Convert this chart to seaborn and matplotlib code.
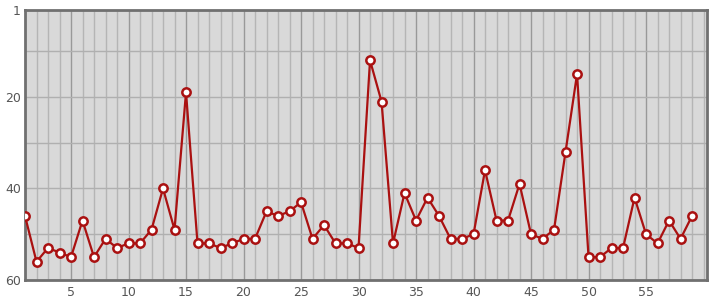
import matplotlib
matplotlib.use("Agg")
import matplotlib.pyplot as plt
import seaborn as sns
import pandas as pd
import numpy as np
from matplotlib.ticker import MultipleLocator, FixedLocator

x_vals = list(range(1, 60))
ranks = [46, 56, 53, 54, 55, 47, 55, 51, 53, 52,
         52, 49, 40, 49, 19, 52, 52, 53, 52, 51,
         51, 45, 46, 45, 43, 51, 48, 52, 52, 53,
         12, 21, 52, 41, 47, 42, 46, 51, 51, 50,
         36, 47, 47, 39, 50, 51, 49, 32, 15, 55,
         55, 53, 53, 42, 50, 52, 47, 51, 46]
y_ticks = [1, 20, 40, 60]
x_ticks = [5, 10, 15, 20, 25, 30, 35, 40, 45, 50, 55]

df = pd.DataFrame({"x": x_vals, "rank": ranks})

sns.set_style("white")
plt.rcParams['font.family'] = ['DejaVu Sans']

fig = plt.figure(figsize=(7.15, 3.0), dpi=100)
ax = fig.add_axes([25/715, 20/300, 682/715, 270/300])
ax.set_facecolor("#d9d9d9")

sns.lineplot(data=df, x="x", y="rank", ax=ax, color="#aa1111", linewidth=1.6,
             marker="o", markersize=6, markerfacecolor="white",
             markeredgecolor="#aa1111", markeredgewidth=1.8, zorder=3)

ax.set_xlim(1, 60.3)
ax.set_ylim(60, 1)
ax.xaxis.set_major_locator(FixedLocator(x_ticks))
ax.xaxis.set_minor_locator(MultipleLocator(1))
ax.yaxis.set_major_locator(FixedLocator(y_ticks))
ax.yaxis.set_minor_locator(FixedLocator([10, 30, 50]))

ax.grid(True, which="major", axis="x", color="#999999", linewidth=1.0, zorder=0)
ax.grid(True, which="minor", axis="x", color="#b5b5b5", linewidth=1.0, zorder=0)
ax.grid(True, which="both", axis="y", color="#b0b0b0", linewidth=1.0, zorder=0)
ax.set_axisbelow(True)

ax.tick_params(axis="both", which="both", length=0, labelsize=9, labelcolor="#555555")
ax.tick_params(axis="y", pad=3)
ax.tick_params(axis="x", pad=4)
ax.set_xlabel("")
ax.set_ylabel("")

for s in ax.spines.values():
    s.set_visible(True)
    s.set_color("#707070")
    s.set_linewidth(2.0)

fig.savefig("out.png", dpi=100)
